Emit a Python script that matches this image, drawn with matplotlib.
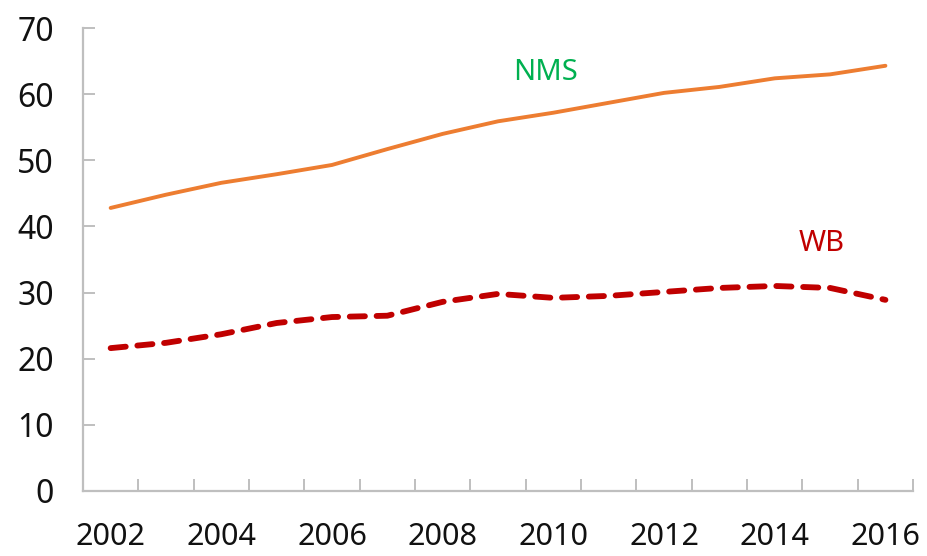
import numpy as np
import matplotlib.pyplot as plt

years = list(range(2002, 2017))
nms = [42.8, 44.8, 46.6, 47.9, 49.3, 51.7, 54.0, 55.9, 57.2, 58.7, 60.2, 61.1, 62.4, 63.0, 64.3]
wb = [21.6, 22.4, 23.7, 25.4, 26.3, 26.5, 28.6, 29.8, 29.2, 29.5, 30.1, 30.7, 31.0, 30.7, 28.9]
year_labels = [str(y) for y in years[::2]]

plt.rcParams['font.family'] = ['Noto Sans', 'DejaVu Sans']

fig = plt.figure(figsize=(9.27, 5.56), dpi=100)
ax = fig.add_axes([0.0895, 0.117, 0.8955, 0.8325])

x = np.arange(len(years))
ax.plot(x, nms, color='#ed7d31', lw=2.8, solid_capstyle='round')
ax.plot(x, wb, color='#c00000', lw=4.2, linestyle=(0, (2.6, 2.0)),
        dash_capstyle='round', solid_capstyle='round')

ax.text(7.85, 63.3, 'NMS', color='#00b050', fontsize=21, ha='center', va='center')
ax.text(12.85, 37.4, 'WB', color='#c00000', fontsize=21, ha='center', va='center')

# Axes
ax.set_xlim(-0.5, len(years) - 0.5)
ax.set_ylim(0, 70)
for s in ['top', 'right']:
    ax.spines[s].set_visible(False)
for s in ['left', 'bottom']:
    ax.spines[s].set_color('#bfbfbf')
    ax.spines[s].set_linewidth(1.6)

ax.set_yticks(range(0, 71, 10))
ax.tick_params(axis='y', direction='in', length=8.5, width=1.4, color='#bfbfbf',
               labelsize=23, pad=21, labelcolor='#111111')

ax.set_xticks(x[::2])
ax.set_xticklabels(year_labels)
ax.set_xticks(np.arange(0.5, len(years), 1.0), minor=True)
ax.tick_params(axis='x', which='major', length=0, labelsize=22, pad=22, labelcolor='#111111')
ax.tick_params(axis='x', which='minor', direction='in', length=8.5, width=1.4, color='#bfbfbf')

fig.savefig('out.png', dpi=100)
